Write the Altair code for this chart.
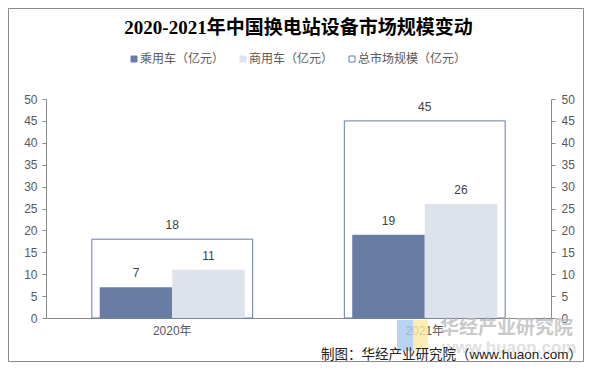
import altair as alt
import pandas as pd

years = ["2020年", "2021年"]
passenger = [7, 19]
commercial = [11, 26]
total = [18, 45]
series_names = ["乘用车（亿元）", "商用车（亿元）", "总市场规模（亿元）"]
y_ticks = [0, 5, 10, 15, 20, 25, 30, 35, 40, 45, 50]
title_text = "2020-2021年中国换电站设备市场规模变动"
footer_text = "制图：华经产业研究院（www.huaon.com）"
wm_text = "华经产业研究院"
wm_url = "www.huaon.com"

sub = pd.DataFrame({
    "year": years * 2,
    "series": [series_names[0]] * 2 + [series_names[1]] * 2,
    "value": passenger + commercial,
})
tot = pd.DataFrame({"year": years, "series": [series_names[2]] * 2, "value": total})
one = pd.DataFrame({"a": [0]})

DARK = "#687ca4"
LIGHT = "#dee2eb"
AX = "#898989"
LBL = "#595959"
FONT = "Liberation Sans, Noto Sans CJK SC"
CJK = "Noto Sans CJK SC"

W, H = 505, 219

x_enc = alt.X("year:N", scale=alt.Scale(domain=years, paddingInner=0, paddingOuter=0),
              axis=alt.Axis(title=None, labelAngle=0, ticks=False, tickSize=0, domainColor=AX,
                            labelPadding=7, labelFontSize=12, labelColor=LBL, labelFont=FONT))
y_scale = alt.Scale(domain=[0, 50], nice=False, zero=True)

leg = alt.Legend(orient="none", legendX=82, legendY=-46, direction="horizontal", title=None,
                 symbolType="square", symbolSize=36, symbolStrokeWidth=1, labelOffset=0,
                 columnPadding=12, labelFont=FONT, labelFontSize=12, labelColor=LBL, padding=0)
fill_enc = alt.Fill("series:N", scale=alt.Scale(domain=series_names, range=[DARK, LIGHT, "#ffffff"]), legend=leg)
stroke_enc = alt.Stroke("series:N", scale=alt.Scale(domain=series_names, range=[DARK, LIGHT, DARK]), legend=leg)

xoff = alt.XOffset("series:N", scale=alt.Scale(domain=series_names[:2], paddingInner=0, paddingOuter=0.741))

total_bar = alt.Chart(tot).mark_bar(width=alt.RelativeBandSize(0.637), strokeWidth=1).encode(
    x=x_enc,
    y=alt.Y("value:Q", scale=y_scale,
            axis=alt.Axis(title=None, values=y_ticks, grid=False, orient="left", domainColor=AX,
                          tickColor=AX, tickSize=4, labelPadding=5, labelFont=FONT,
                          labelFontSize=12, labelColor=LBL)),
    fill=fill_enc, stroke=stroke_enc,
)

sub_bar = alt.Chart(sub).mark_bar(strokeWidth=0).encode(
    x=x_enc, xOffset=xoff,
    y=alt.Y("value:Q", scale=y_scale, axis=None),
    fill=fill_enc, stroke=stroke_enc,
)

sub_text = alt.Chart(sub).mark_text(baseline="bottom", dy=-7, font=FONT, fontSize=12, color="#404040").encode(
    x=x_enc, xOffset=xoff,
    y=alt.Y("value:Q", scale=y_scale, axis=None),
    text="value:Q",
)

tot_text = alt.Chart(tot).mark_text(baseline="bottom", dy=-7, font=FONT, fontSize=12, color="#404040").encode(
    x=x_enc,
    y=alt.Y("value:Q", scale=y_scale, axis=None),
    text="value:Q",
)

right_axis = alt.Chart(tot).mark_point(opacity=0).encode(
    x=x_enc,
    y=alt.Y("value:Q", scale=y_scale,
            axis=alt.Axis(title=None, values=y_ticks, grid=False, orient="right", domainColor=AX,
                          tickColor=AX, tickSize=4, labelPadding=6, labelFont=FONT,
                          labelFontSize=12, labelColor=LBL)),
)

title = alt.Chart(one).mark_text(text=title_text, font="Liberation Serif, Noto Sans CJK SC",
                                 fontSize=19, fontWeight="bold", color="#000000",
                                 align="center", baseline="middle").encode(
    x=alt.value(252.5), y=alt.value(-71))

footer = alt.Chart(one).mark_text(text=footer_text, font=FONT, fontSize=13.5, color="#222222",
                                  align="right", baseline="middle").encode(
    x=alt.value(536), y=alt.value(255.5))

logo_b = alt.Chart(one).mark_rect(color="#a8c8f0", opacity=0.8).encode(
    x=alt.value(351), x2=alt.value(367), y=alt.value(221), y2=alt.value(252))
logo_y = alt.Chart(one).mark_rect(color="#fbe9a3", opacity=0.8).encode(
    x=alt.value(367), x2=alt.value(382), y=alt.value(221), y2=alt.value(252))

wm1 = alt.Chart(one).mark_text(text=wm_text, font=CJK, fontSize=19, fontWeight="bold",
                               color="#b8b8b8", opacity=0.75, align="left", baseline="middle").encode(
    x=alt.value(394), y=alt.value(229))
wm2 = alt.Chart(one).mark_text(text=wm_url, font=FONT, fontSize=17, fontWeight="bold",
                               color="#cccccc", opacity=0.6, align="left", baseline="middle").encode(
    x=alt.value(396), y=alt.value(249))

frame = alt.Chart(one).mark_rect(fill=None, stroke="#8a8a8a", strokeWidth=1).encode(
    x=alt.value(-37.5), x2=alt.value(537.5), y=alt.value(-90.5), y2=alt.value(262.5))

chart = alt.layer(
    total_bar, sub_bar, sub_text, tot_text, right_axis, title,
    logo_b, logo_y, wm1, wm2, footer, frame,
).resolve_scale(y="independent").properties(
    width=W, height=H,
    autosize=alt.AutoSizeParams(type="none"),
    padding={"left": 38, "top": 91, "right": 33, "bottom": 44},
).configure_view(stroke=None)

chart.save("out.html", embed_options={"renderer": "svg", "actions": False})
